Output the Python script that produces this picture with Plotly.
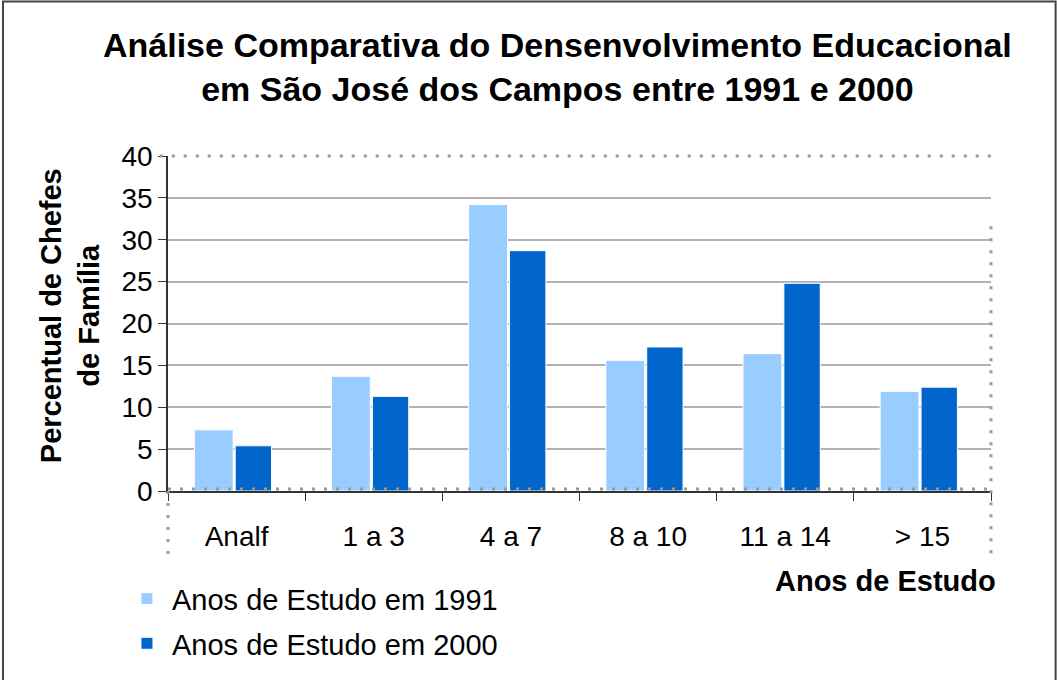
import plotly.graph_objects as go

# Education levels (years of schooling) and share of household heads (%)
categories = ["Analf", "1 a 3", "4 a 7", "8 a 10", "11 a 14", "> 15"]
valores_1991 = [7.3, 13.7, 34.2, 15.6, 16.4, 11.9]
valores_2000 = [5.4, 11.3, 28.7, 17.2, 24.8, 12.4]
y_ticks = [0, 5, 10, 15, 20, 25, 30, 35, 40]

FONT = "Liberation Sans, Arial, sans-serif"

fig = go.Figure()
fig.add_trace(go.Bar(
    x=categories, y=valores_1991, name="Anos de Estudo em 1991",
    marker=dict(color="#99ccff", line=dict(color="white", width=1)),
    width=0.283, offset=-0.308, legendgroup="a",
))
fig.add_trace(go.Bar(
    x=categories, y=valores_2000, name="Anos de Estudo em 2000",
    marker=dict(color="#0066cc", line=dict(color="white", width=1)),
    width=0.265, offset=-0.01, legendgroup="b",
))

dot = dict(color="#999999", width=3, dash="3px,9px")
shapes = [
    # outer frame
    dict(type="rect", xref="paper", yref="paper", x0=-0.2005, x1=1.0785,
         y0=-0.62, y1=1.4612, line=dict(color="#444444", width=2)),
    # dotted frame segments around the plotting area
    dict(type="line", xref="paper", yref="paper", x0=-0.01, x1=1.0, y0=1.0, y1=1.0, line=dot),
    dict(type="line", xref="paper", yref="paper", x0=0, x1=1.0, y0=0.006, y1=0.006, line=dot),
    dict(type="line", xref="paper", yref="paper", x0=0, x1=0, y0=0, y1=-0.21, line=dot),
    dict(type="line", xref="paper", yref="paper", x0=1.0, x1=1.0, y0=0.79, y1=-0.19, line=dot),
]

annotations = [
    dict(text="<b>Análise Comparativa do Densenvolvimento Educacional<br>em São José dos Campos entre 1991 e 2000</b>",
         xref="paper", yref="paper", x=0.473, y=1.395, xanchor="center", yanchor="top",
         showarrow=False, font=dict(family=FONT, size=34, color="black"), align="center"),
    dict(text="<b>Percentual de Chefes<br>de Família</b>", textangle=-90,
         xref="paper", yref="paper", x=-0.119, y=0.522, xanchor="center", yanchor="middle",
         showarrow=False, font=dict(family=FONT, size=29, color="black"), align="center"),
    dict(text="<b>Anos de Estudo</b>",
         xref="paper", yref="paper", x=1.0085, y=-0.268, xanchor="right", yanchor="middle",
         showarrow=False, font=dict(family=FONT, size=29, color="black")),
]

fig.update_layout(
    width=1057, height=680,
    margin=dict(l=168, r=66, t=156, b=189, autoexpand=False),
    paper_bgcolor="white", plot_bgcolor="white",
    barmode="group",
    font=dict(family=FONT, color="black"),
    showlegend=True,
    legend=dict(xref="container", yref="container", x=0.1154, y=0.157,
                xanchor="left", yanchor="top",
                font=dict(family=FONT, size=29, color="black"),
                tracegroupgap=4, itemwidth=40, bgcolor="rgba(0,0,0,0)"),
    shapes=shapes, annotations=annotations,
)
fig.update_xaxes(
    automargin=False,
    showline=True, linecolor="#333333", linewidth=1.5,
    ticks="outside", tickson="boundaries", ticklen=8, tickcolor="#333333",
    ticklabelstandoff=20,
    tickfont=dict(family=FONT, size=28, color="black"), showgrid=False,
)
fig.update_yaxes(
    automargin=False,
    range=[0, 40], tickvals=y_ticks, showline=True, linecolor="#333333", linewidth=1.5,
    ticks="outside", ticklen=8, tickcolor="#333333",
    tickfont=dict(family=FONT, size=28, color="black"),
    showgrid=True, gridcolor="#b3b3b3", gridwidth=1.5, zeroline=False,
)

fig.write_html("out.html")
